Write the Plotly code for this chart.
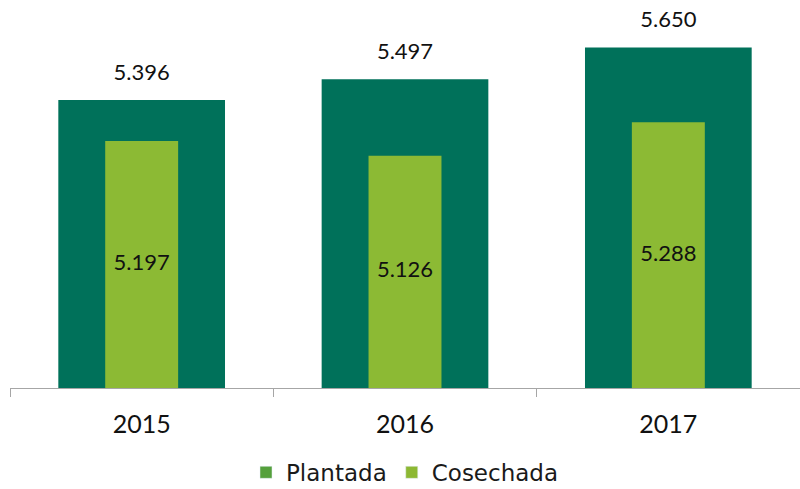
import plotly.graph_objects as go

# Superficie por campaña (miles de ha)
years = ["2015", "2016", "2017"]
plantada = [5396, 5497, 5650]
cosechada = [5197, 5126, 5288]

Y_MIN, Y_MAX = 4000, 5842

DARK = "#00715A"
LIGHT = "#8CBA34"
FONT = "Lato"


def fmt(v):
    return f"{v:,}".replace(",", ".")


fig = go.Figure()

fig.add_trace(go.Bar(
    x=years, y=plantada, name="Plantada", width=0.633,
    marker=dict(color=DARK, line=dict(width=0)),
    showlegend=False, hoverinfo="skip",
))
fig.add_trace(go.Bar(
    x=years, y=cosechada, name="Cosechada", width=0.277,
    marker=dict(color=LIGHT, line=dict(width=0)),
    showlegend=False, hoverinfo="skip",
))

# Value labels above the wide bars
fig.add_trace(go.Scatter(
    x=years, y=plantada, mode="markers+text",
    text=[fmt(v) for v in plantada], textposition="top center",
    marker=dict(size=22, color="rgba(0,0,0,0)"),
    textfont=dict(family=FONT, size=22, color="#111111"),
    showlegend=False, hoverinfo="skip",
))

# Value labels centred in the visible part of the narrow bars
fig.add_trace(go.Scatter(
    x=years, y=[(Y_MIN + v) / 2 for v in cosechada], mode="text",
    text=[fmt(v) for v in cosechada], textposition="middle center",
    textfont=dict(family=FONT, size=22, color="#111111"),
    showlegend=False, hoverinfo="skip",
))

# Legend entries
fig.add_trace(go.Bar(x=[None], y=[None], name="Plantada",
                     marker=dict(color="#55A03C")))
fig.add_trace(go.Bar(x=[None], y=[None], name="Cosechada",
                     marker=dict(color="#8DB833")))

fig.update_layout(
    width=800, height=489,
    margin=dict(l=10, r=0, t=8, b=101, autoexpand=False),
    barmode="overlay",
    paper_bgcolor="white", plot_bgcolor="white",
    font=dict(family=FONT, color="#111111"),
    legend=dict(
        orientation="h", x=0.5, xanchor="center",
        yref="container", y=0.034, yanchor="middle",
        font=dict(family="DejaVu Sans", size=23, color="#1a1a1a"),
        traceorder="normal", tracegroupgap=0,
    ),
    xaxis=dict(
        type="category", range=[-0.5, 2.5],
        showline=True, linecolor="#A6A6A6", linewidth=1,
        ticks="outside", tickson="boundaries", ticklen=8, tickcolor="#A6A6A6",
        tickfont=dict(family=FONT, size=25, color="#111111"),
        ticklabelstandoff=14,
        showgrid=False, zeroline=False, automargin=False,
    ),
    yaxis=dict(
        range=[Y_MIN, Y_MAX], visible=False, showgrid=False, zeroline=False,
    ),
)

fig.write_html("out.html")
